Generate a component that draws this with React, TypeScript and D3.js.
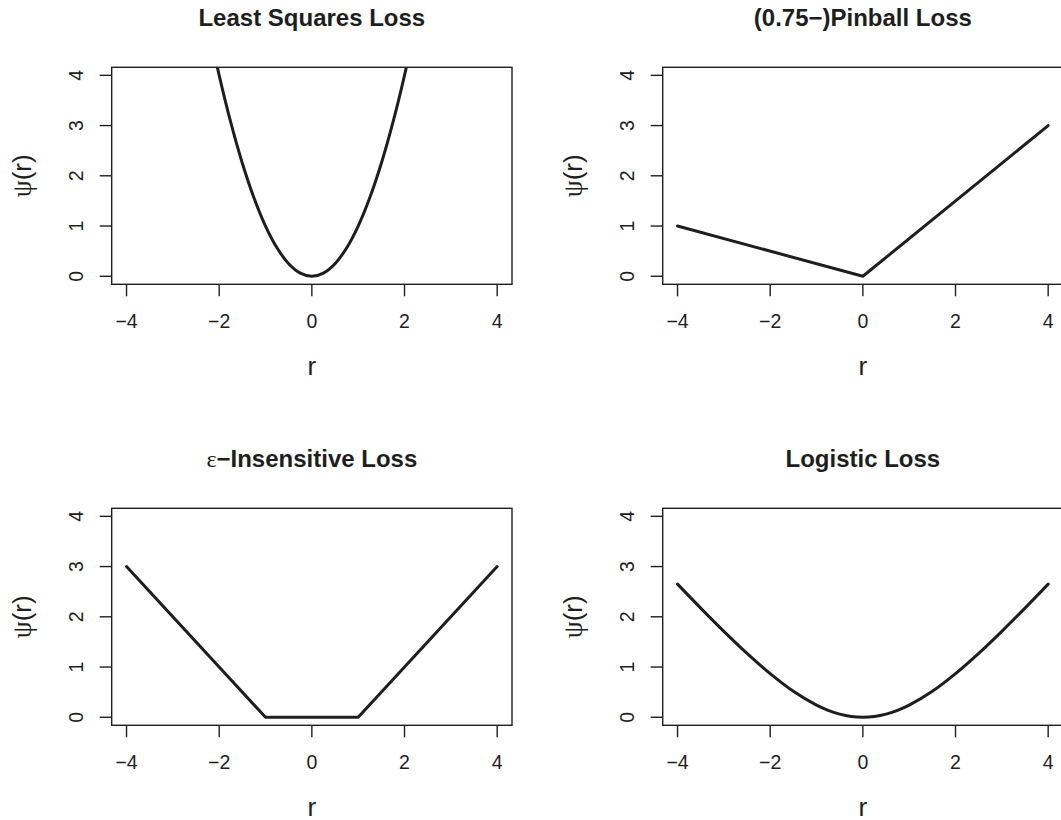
import React from "react";
import * as d3 from "d3";

// Shared axis ticks
const xTicks = [-4, -2, 0, 2, 4];
const yTicks = [0, 1, 2, 3, 4];

// Least squares loss: psi(r) = r^2
const lsR = [-2.5, -2.25, -2, -1.75, -1.5, -1.25, -1, -0.75, -0.5, -0.25, 0, 0.25, 0.5, 0.75, 1, 1.25, 1.5, 1.75, 2, 2.25, 2.5];
const lsPsi = [6.25, 5.0625, 4, 3.0625, 2.25, 1.5625, 1, 0.5625, 0.25, 0.0625, 0, 0.0625, 0.25, 0.5625, 1, 1.5625, 2.25, 3.0625, 4, 5.0625, 6.25];

// Pinball loss with tau = 0.75
const pinR = [-4, 0, 4];
const pinPsi = [1, 0, 3];

// epsilon-insensitive loss with epsilon = 1
const epsR = [-4, -1, 1, 4];
const epsPsi = [3, 0, 0, 3];

// Logistic loss for regression
const logR = [-4, -3.5, -3, -2.5, -2, -1.5, -1, -0.75, -0.5, -0.25, 0, 0.25, 0.5, 0.75, 1, 1.5, 2, 2.5, 3, 3.5, 4];
const logPsi = [2.65, 2.1732, 1.7109, 1.2715, 0.8676, 0.5165, 0.2402, 0.1375, 0.0619, 0.0156, 0, 0.0156, 0.0619, 0.1375, 0.2402, 0.5165, 0.8676, 1.2715, 1.7109, 2.1732, 2.65];

type Panel = { title: React.ReactNode; r: number[]; psi: number[]; smooth: boolean };

const SYM = "'Liberation Serif', 'DejaVu Serif', serif";
const SANS = "'Liberation Sans', Arial, Helvetica, sans-serif";

const panels: Panel[] = [
  { title: "Least Squares Loss", r: lsR, psi: lsPsi, smooth: true },
  { title: "(0.75\u2212)Pinball Loss", r: pinR, psi: pinPsi, smooth: false },
  {
    title: (
      <>
        <tspan fontFamily={SYM} fontWeight="normal">ε</tspan>
        <tspan>{"\u2212Insensitive Loss"}</tspan>
      </>
    ),
    r: epsR,
    psi: epsPsi,
    smooth: false,
  },
  { title: "Logistic Loss", r: logR, psi: logPsi, smooth: true },
];

const W = 1061;
const H = 820;
const CELL_W = 551;
const CELL_H = 441;
const BOX_L = 111.7;
const BOX_R = 512;
const BOX_T = 67.3;
const BOX_B = 284.3;

const INK = "#1e1e1e";

function fmt(v: number) {
  return v < 0 ? "\u2212" + Math.abs(v) : String(v);
}

function PanelView({ p, idx }: { p: Panel; idx: number }) {
  const col = idx % 2;
  const row = Math.floor(idx / 2);
  const ox = col * CELL_W;
  const oy = row * CELL_H;
  const x = d3.scaleLinear().domain([-4.32, 4.32]).range([BOX_L, BOX_R]);
  const y = d3.scaleLinear().domain([-0.16, 4.16]).range([BOX_B, BOX_T]);
  const pts = p.r.map((r, i) => [r, p.psi[i]] as [number, number]);
  const line = d3
    .line<[number, number]>()
    .x((d) => x(d[0]))
    .y((d) => y(d[1]))
    .curve(p.smooth ? d3.curveCatmullRom.alpha(0.5) : d3.curveLinear);
  const clipId = `clip-${idx}`;
  const cx = (BOX_L + BOX_R) / 2;
  const cy = (BOX_T + BOX_B) / 2;
  return (
    <g transform={`translate(${ox},${oy})`}>
      <defs>
        <clipPath id={clipId}>
          <rect x={BOX_L} y={BOX_T} width={BOX_R - BOX_L} height={BOX_B - BOX_T} />
        </clipPath>
      </defs>
      <text x={cx} y={26} textAnchor="middle" fontFamily={SANS} fontWeight="bold" fontSize={24} fill={INK}>
        {p.title}
      </text>
      <path d={line(pts) || ""} fill="none" stroke={INK} strokeWidth={3} strokeLinejoin="round" strokeLinecap="round" clipPath={`url(#${clipId})`} />
      <rect x={BOX_L} y={BOX_T} width={BOX_R - BOX_L} height={BOX_B - BOX_T} fill="none" stroke={INK} strokeWidth={1.4} />
      {xTicks.map((t) => (
        <g key={`x${t}`}>
          <line x1={x(t)} x2={x(t)} y1={BOX_B} y2={BOX_B + 12} stroke={INK} strokeWidth={1.4} />
          <text x={x(t)} y={328} textAnchor="middle" fontFamily={SANS} fontSize={19.5} fill={INK}>
            {fmt(t)}
          </text>
        </g>
      ))}
      {yTicks.map((t) => (
        <g key={`y${t}`}>
          <line x1={BOX_L - 12} x2={BOX_L} y1={y(t)} y2={y(t)} stroke={INK} strokeWidth={1.4} />
          <text
            transform={`translate(${BOX_L - 28.7},${y(t)}) rotate(-90)`}
            textAnchor="middle"
            fontFamily={SANS}
            fontSize={19.5}
            fill={INK}
          >
            {fmt(t)}
          </text>
        </g>
      ))}
      <text x={cx} y={375} textAnchor="middle" fontFamily={SANS} fontSize={26} fill={INK}>
        r
      </text>
      <text transform={`translate(31,${cy}) rotate(-90)`} textAnchor="middle" fontFamily={SANS} fontSize={26} fill={INK}>
        <tspan fontFamily={SYM} fontSize={27}>ψ</tspan>
        <tspan>(r)</tspan>
      </text>
    </g>
  );
}

export default function App() {
  return (
    <svg
      width={W}
      height={H}
      viewBox={`0 0 ${W} ${H}`}
      style={{ position: "absolute", left: 0, top: 0, background: "#fff" }}
    >
      <rect width={W} height={H} fill="#fff" />
      {panels.map((p, i) => (
        <PanelView key={i} p={p} idx={i} />
      ))}
    </svg>
  );
}
